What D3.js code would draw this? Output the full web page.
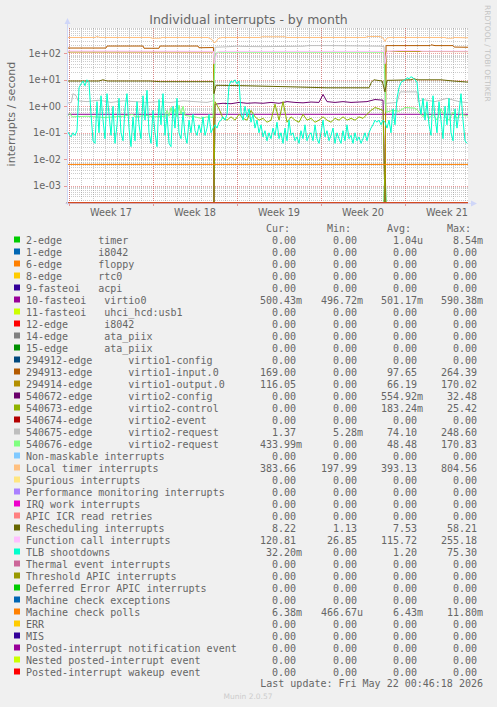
<!DOCTYPE html>
<html><head><meta charset="utf-8">
<script src="https://cdn.jsdelivr.net/npm/d3@7"></script>
<style>body{margin:0;background:#F0F0F0}svg text{white-space:pre}</style>
</head><body><script>
// ---------- DATA ----------
const legendNames = [
"2-edge      timer","1-edge      i8042","6-edge      floppy","8-edge      rtc0","9-fasteoi   acpi",
"10-fasteoi   virtio0","11-fasteoi   uhci_hcd:usb1","12-edge      i8042","14-edge      ata_piix","15-edge      ata_piix",
"294912-edge      virtio1-config","294913-edge      virtio1-input.0","294914-edge      virtio1-output.0",
"540672-edge      virtio2-config","540673-edge      virtio2-control","540674-edge      virtio2-event",
"540675-edge      virtio2-request","540676-edge      virtio2-request",
"Non-maskable interrupts","Local timer interrupts","Spurious interrupts","Performance monitoring interrupts",
"IRQ work interrupts","APIC ICR read retries","Rescheduling interrupts","Function call interrupts","TLB shootdowns",
"Thermal event interrupts","Threshold APIC interrupts","Deferred Error APIC interrupts","Machine check exceptions",
"Machine check polls","ERR","MIS","Posted-interrupt notification event","Nested posted-interrupt event","Posted-interrupt wakeup event"];
const legendColors = ["#00CC00","#0066B3","#FF8000","#FFCC00","#330099","#990099","#CCFF00","#FF0000","#808080","#008F00",
"#00487D","#B35A00","#B38F00","#6B006B","#8FB300","#B30000","#BEBEBE","#80FF80","#80C9FF","#FFC080","#FFE680","#AA80FF",
"#EE00CC","#FF8080","#666600","#FFBFFF","#00FFCC","#CC6699","#999900","#00CC00","#0066B3","#FF8000","#FFCC00","#330099",
"#990099","#CCFF00","#FF0000"];
const curVals = ["0.00","0.00","0.00","0.00","0.00","500.43m","0.00","0.00","0.00","0.00","0.00","169.00","116.05","0.00","0.00","0.00","1.37","433.99m","0.00","383.66","0.00","0.00","0.00","0.00","8.22","120.81","32.20m","0.00","0.00","0.00","0.00","6.38m","0.00","0.00","0.00","0.00","0.00"];
const minVals = ["0.00","0.00","0.00","0.00","0.00","496.72m","0.00","0.00","0.00","0.00","0.00","0.00","0.00","0.00","0.00","0.00","5.28m","0.00","0.00","197.99","0.00","0.00","0.00","0.00","1.13","26.85","0.00","0.00","0.00","0.00","0.00","466.67u","0.00","0.00","0.00","0.00","0.00"];
const avgVals = ["1.04u","0.00","0.00","0.00","0.00","501.17m","0.00","0.00","0.00","0.00","0.00","97.65","66.19","554.92m","183.24m","0.00","74.10","48.48","0.00","393.13","0.00","0.00","0.00","0.00","7.53","115.72","1.20","0.00","0.00","0.00","0.00","6.43m","0.00","0.00","0.00","0.00","0.00"];
const maxVals = ["8.54m","0.00","0.00","0.00","0.00","590.38m","0.00","0.00","0.00","0.00","0.00","264.39","170.02","32.48","25.42","0.00","248.60","170.83","0.00","804.56","0.00","0.00","0.00","0.00","58.21","255.18","75.30","0.00","0.00","0.00","0.00","11.80m","0.00","0.00","0.00","0.00","0.00"];
const yTickLabels = ["1e-03","1e-02","1e-01","1e+00","1e+01","1e+02"];

// series: [day since Mon 2026-04-20 00:00, value]
const zeroSeries = [[-0.17,0],[33.25,0]];
const timer2 = [[-0.17,0],[26.25,0],[26.33,0.00854],[26.42,0],[33.25,0]];
const virtio0 = [[-0.17,0.5],[33.25,0.5]];
const virtio1Input = [[-0.17,158],[3.08,158],[3.17,188],[6.17,188],[6.25,155],[7.5,155],[7.58,188],[10.75,188],[10.83,162],[12.04,165],[12.08,0],[26.33,0],[26.42,195],[30.1,195],[30.17,210],[30.5,195],[32.0,195],[32.1,172],[33.25,169]];
const virtio1Output = [[-0.17,112],[12.04,112],[12.08,0],[26.33,0],[26.42,118],[33.25,116]];
const virtio2Config = [[-0.17,0],[12.08,0],[12.17,1.2],[12.83,1.3],[13.5,1.25],[14.17,1.4],[14.83,1.3],[15.5,1.35],[16.17,1.3],[16.83,1.4],[17.5,1.3],[18.17,1.5],[18.83,1.4],[19.5,1.35],[20.17,1.45],[20.83,1.4],[21.17,2.8],[21.5,1.5],[22.17,1.4],[22.83,1.5],[23.5,1.4],[24.17,1.45],[24.83,1.5],[25.5,1.8],[26.17,1.7],[26.33,0],[33.25,0]];
const controlStart = 12.17, controlStep = 1/3;
const virtio2ControlVals = [1.5,0.8,0.35,0.3,0.4,0.3,0.5,0.35,0.3,0.7,
 0.4,0.3,0.35,0.25,0.3,1.2,0.3,1.5,0.25,0.4,
 0.3,0.25,0.5,0.3,0.35,0.25,0.3,0.4,0.3,0.25,
 0.35,0.3,0.4,0.3,0.35,0.3,0.4,0.35,0.5,0.7,
 0.9,0.8,0.7];
const virtio2Request1 = [[-0.17,1.3],[0.2,1.4],[0.33,3],[0.6,2.5],[0.75,1.6],[1.5,1.5],[2.5,1.7],[3.5,1.4],[4.5,1.6],[5.5,1.5],[6.5,1.4],[7.5,1.5],[8.5,1.4],[9.5,1.6],[10.5,1.5],[11.5,1.4],[12.0,1.6],[12.08,1.5],[12.17,170],[13.0,175],[14.0,185],[15.0,180],[16.0,178],[17.0,180],[19.5,185],[20.0,195],[22.0,195],[24.0,190],[26.0,185],[26.25,180],[26.33,1.2],[26.5,1.3],[27.33,1.4],[27.6,3.5],[29.0,3.5],[29.08,1.5],[29.5,1.8],[30.5,1.5],[31.5,2],[32.5,1.5],[33.25,1.37]];
const virtio2Request2 = [[-0.17,0.4],[0.08,0.55],[0.25,0.4],[1.5,0.42],[3,0.38],[4.5,0.42],[5.33,0.5],[5.5,0.4],[6.5,0.45],[7.0,0.4],[8.0,0.42],[8.17,0.7],[8.33,0.42],[8.5,0.9],[8.67,0.45],[8.83,0.8],[9.0,0.4],[9.17,1.1],[9.33,0.5],[9.5,1.0],[9.67,0.45],[10.5,0.4],[11.0,0.35],[11.5,0.4],[12.0,0.38],[12.17,80],[12.33,110],[26.25,110],[26.42,0.6],[27.0,0.7],[27.5,0.65],[28.0,0.9],[28.83,0.85],[29.0,0.75],[29.5,0.4],[29.67,0.6],[30,0.35],[30.33,0.5],[30.67,0.3],[31,0.8],[31.33,0.4],[31.67,0.3],[32,0.6],[32.33,0.35],[32.67,0.5],[33.25,0.43]];
const localTimer = [[-0.17,395],[2.17,395],[2.33,430],[2.58,395],[6.75,395],[6.92,370],[7.58,370],[7.75,395],[11.58,395],[11.92,330],[12.08,250],[12.25,270],[12.42,360],[12.75,395],[15.92,395],[16.08,420],[18,420],[18.17,395],[24.67,395],[24.92,430],[25.92,430],[26.17,380],[26.33,280],[26.5,380],[26.75,395],[31.33,395],[31.5,370],[31.92,370],[32.08,395],[33.25,384]];
const rescheduling = [[-0.17,9],[2.5,9],[2.83,10],[3.2,9],[6.75,9],[7.6,8.5],[12.04,8.5],[12.08,3],[12.25,6.2],[14.5,6],[18,5.5],[21.5,5],[25,5],[25.2,8],[25.4,10],[26.1,9],[26.33,3.5],[26.5,9.5],[28.5,10],[28.75,11],[29,10],[31,10],[32,9],[33.25,8.2]];
const functionCall = [[-0.17,122],[12.04,118],[12.08,40],[12.3,95],[12.5,118],[26.29,118],[26.33,40],[26.5,118],[27.5,126],[29.2,126],[29.4,120],[33.25,120]];
const tlbStart = -1/6, tlbStep = 1/6;
const tlbVals = [
 0.12,0.09,0.07,0.1,0.08,0.12,5,7,9,6,10,8,
 0.5,0.05,0.04,1.5,0.1,2.5,0.3,0.06,3,0.5,
 0.08,1,0.04,0.2,2,0.1,0.05,0.8,3,0.15,
 0.03,0.4,0.05,1.5,0.2,0.06,2.5,0.3,4,0.1,
 0.04,0.7,0.1,0.03,1.8,0.2,3,0.08,0.5,0.04,
 0.03,1,0.15,2,0.1,0.06,0.6,0.08,0.04,0.3,
 0.1,0.5,0.12,0.08,0.2,0.1,0.4,0.08,0.15,0.5,
 0.1,0.15,
 0.2,0.15,0.25,0.3,0.4,0.3,0.5,6,9,8,10,7,9,
 0.6,0.3,1,0.4,0.8,0.25,0.5,0.15,0.3,0.1,
 0.2,0.07,0.12,0.05,0.1,0.06,0.15,0.08,0.25,0.06,
 0.1,0.04,0.15,0.05,0.3,0.08,0.1,0.05,0.07,0.04,
 0.12,0.06,0.2,0.05,0.08,0.1,0.05,0.2,0.06,0.04,
 0.1,0.3,0.07,0.12,0.05,0.08,0.15,0.04,0.1,0.06,
 0.04,0.12,0.05,0.2,0.06,0.08,0.04,0.1,0.05,0.07,
 0.04,0.06,0.1,0.05,0.1,0.15,0.2,0.3,0.25,0.3,
 0.2,0.3,0.25,
 0.15,0.3,0.1,0.8,0.2,2,5,8,9,10,
 12,11,13,12,10,8,1.5,0.5,2,0.3,
 1.5,0.2,0.08,2.5,0.4,0.1,1.5,0.3,0.06,1,
 0.2,2,0.1,0.05,0.8,0.15,0.6,3,0.3,0.05,
 0.04];
const mcPolls = [[-0.17,0.0064],[33.25,0.0064]];

// ---------- BUILD ----------
const virtio2Control = [[-0.17,0],[12.08,0]]
  .concat(virtio2ControlVals.map((v,i)=>[controlStart+i*controlStep,v]))
  .concat([[26.33,0],[33.25,0]]);
const tlb = tlbVals.map((v,i)=>[tlbStart+i*tlbStep,v]);
const seriesData = [timer2,zeroSeries,zeroSeries,zeroSeries,zeroSeries,virtio0,zeroSeries,zeroSeries,zeroSeries,zeroSeries,
  zeroSeries,virtio1Input,virtio1Output,virtio2Config,virtio2Control,zeroSeries,virtio2Request1,virtio2Request2,
  zeroSeries,localTimer,zeroSeries,zeroSeries,zeroSeries,zeroSeries,rescheduling,functionCall,tlb,
  zeroSeries,zeroSeries,zeroSeries,zeroSeries,mcPolls,zeroSeries,zeroSeries,zeroSeries,zeroSeries,zeroSeries];

const W=497,H=707;
const L=67,R=468,T=28,B=203;
const base = new Date(2026,3,20,0,0,0);
const dayDate = d => new Date(base.getTime()+d*864e5);
const x = d3.scaleTime().domain([dayDate(-1/6),dayDate(33.25)]).range([L,R]);
const y = d3.scaleLog().domain([Math.pow(10,-3.65),Math.pow(10,2.955)]).range([B,T]);
const yv = v => v>0 ? Math.max(T,Math.min(B,y(v))) : B;

const svg = d3.select("body").append("svg").attr("width",W).attr("height",H)
  .style("font-family","'DejaVu Sans',sans-serif");
svg.append("rect").attr("width",W).attr("height",H).attr("fill","#F0F0F0");
svg.append("rect").attr("x",L).attr("y",T).attr("width",R-L).attr("height",B-T).attr("fill","#FFFFFF");

// grid
const grid = svg.append("g").attr("shape-rendering","crispEdges");
const minorCol="rgba(143,143,143,0.45)", majorCol="rgba(222,79,79,0.55)";
for(let e=-4;e<=2;e++){
  for(let m=2;m<=9;m++){
    const v=m*Math.pow(10,e);
    if(v<y.domain()[0]||v>y.domain()[1]) continue;
    const yy=Math.round(y(v))+0.5;
    grid.append("line").attr("x1",L).attr("x2",R).attr("y1",yy).attr("y2",yy)
      .attr("stroke",minorCol).attr("stroke-dasharray","1,1");
  }
}
x.ticks(d3.timeDay.every(1)).forEach(d=>{
  const xx=Math.round(x(d))+0.5;
  grid.append("line").attr("x1",xx).attr("x2",xx).attr("y1",T).attr("y2",B)
    .attr("stroke",minorCol).attr("stroke-dasharray","1,1");
});
yTickLabels.forEach(s=>{
  const v=+s; const yy=Math.round(y(v))+0.5;
  grid.append("line").attr("x1",L).attr("x2",R).attr("y1",yy).attr("y2",yy)
    .attr("stroke",majorCol).attr("stroke-dasharray","1,1");
  grid.append("line").attr("x1",L-3).attr("x2",L).attr("y1",yy).attr("y2",yy).attr("stroke",majorCol);
  svg.append("text").attr("x",61).attr("y",y(v)+3.3).attr("text-anchor","end")
    .attr("font-size","9.7px").attr("fill","#666").text(s);
});
const mondays = x.ticks(d3.timeMonday.every(1));
mondays.forEach(d=>{
  const xx=Math.round(x(d))+0.5;
  grid.append("line").attr("x1",xx).attr("x2",xx).attr("y1",T).attr("y2",B)
    .attr("stroke",majorCol).attr("stroke-dasharray","1,1");
  grid.append("line").attr("x1",xx).attr("x2",xx).attr("y1",B).attr("y2",B+3).attr("stroke",majorCol);
});
const fmtWeek = d3.timeFormat("Week %V");
mondays.forEach(d=>{
  const mid = d3.timeHour.offset(d,84);
  if(x(mid)>R) return;
  svg.append("text").attr("x",x(mid)).attr("y",215.6).attr("text-anchor","middle")
    .attr("font-size","9.7px").attr("fill","#666").text(fmtWeek(d));
});

// series
const line = d3.line().x(d=>x(dayDate(d[0]))).y(d=>yv(d[1]));
const plot = svg.append("g");
seriesData.forEach((data,i)=>{
  plot.append("path").attr("d",line(data)).attr("fill","none")
    .attr("stroke",legendColors[i]).attr("stroke-width",1);
});

// axes (light blue) with arrows, drawn over the data
svg.append("line").attr("x1",L+0.5).attr("x2",L+0.5).attr("y1",B+2).attr("y2",T-5).attr("stroke","#CFD6F8");
svg.append("path").attr("d",`M${L-2.5},${T-4}L${L+3.5},${T-4}L${L+0.5},${T-10}Z`).attr("fill","#CFD6F8");
svg.append("line").attr("x1",L-2).attr("x2",R+4).attr("y1",B+0.5).attr("y2",B+0.5).attr("stroke","#CFD6F8").attr("stroke-opacity",0.7);
svg.append("path").attr("d",`M${R+3},${B-2.5}L${R+3},${B+3.5}L${R+9},${B+0.5}Z`).attr("fill","#CFD6F8");

// title, labels
svg.append("text").attr("x",248.5).attr("y",23.5).attr("text-anchor","middle")
  .attr("font-size","12.5px").attr("fill","#666").text("Individual interrupts - by month");
svg.append("text").attr("transform","translate(15,114) rotate(-90)").attr("text-anchor","middle")
  .attr("font-size","11.1px").attr("fill","#666").text("interrupts / second");
svg.append("text").attr("transform","translate(485,5) rotate(90)").attr("text-anchor","start")
  .attr("font-size","7.5px").attr("fill","#c4c4c4").text("RRDTOOL / TOBI OETIKER");

// legend
const lg = svg.append("g").style("font-family","'DejaVu Sans Mono',monospace").attr("font-size","10px").attr("fill","#666");
const colRight=[302,363,423,483];
["Cur:","Min:","Avg:","Max:"].forEach((h,j)=>{
  lg.append("text").attr("x",colRight[j]-12).attr("y",231.5).attr("text-anchor","end").text(h);
});
const cols=[curVals,minVals,avgVals,maxVals];
legendNames.forEach((n,i)=>{
  const cy=239.5+i*12;
  lg.append("rect").attr("x",14).attr("y",cy-3).attr("width",6).attr("height",6).attr("fill",legendColors[i]);
  lg.append("text").attr("x",26).attr("y",cy+4).text(n);
  cols.forEach((arr,j)=>{
    const s=arr[i]; const m=s.match(/^([\d.]+)([a-zA-Z]?)$/);
    lg.append("text").attr("x",colRight[j]-6).attr("y",cy+4).attr("text-anchor","end").text(m[1]);
    if(m[2]) lg.append("text").attr("x",colRight[j]-6).attr("y",cy+4).text(m[2]);
  });
});
lg.append("text").attr("x",483).attr("y",686.5).attr("text-anchor","end").text("Last update: Fri May 22 00:46:18 2026");
svg.append("text").attr("x",248).attr("y",699).attr("text-anchor","middle").attr("font-size","7.5px").attr("fill","#ccc").text("Munin 2.0.57");
</script></body></html>
